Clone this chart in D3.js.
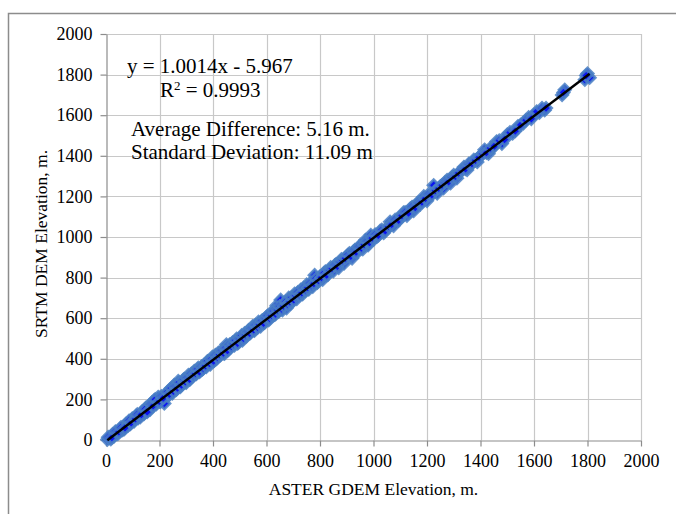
<!DOCTYPE html>
<html lang="en">
<head>
<meta charset="UTF-8">
<title>ASTER vs SRTM elevation</title>
<script src="https://cdn.jsdelivr.net/npm/d3@7/dist/d3.min.js"></script>
<style>
  body { margin: 0; background: #fff; }
  svg text { font-family: "Liberation Serif", "Times New Roman", serif; fill: #000; }
</style>
</head>
<body>
<div id="chart"></div>
<script>

// ASTER GDEM elevation (x) and SRTM DEM elevation (y)
var asterElev = [5,12,18,25,30,38,44,52,60,67,75,82,90,98,105,113,120,128,135,142,
  150,158,165,172,180,188,195,203,210,218,225,233,240,248,255,263,270,278,285,293,
  300,308,315,323,330,338,345,353,360,368,375,383,390,398,405,413,420,428,435,443,
  450,458,465,473,480,488,495,503,510,518,525,533,540,548,555,563,570,578,585,593,
  600,608,615,623,630,638,645,653,660,668,675,683,690,698,705,713,720,728,735,743,
  750,758,765,773,780,790,800,810,820,830,840,850,860,870,880,890,900,910,920,930,
  940,950,960,970,980,990,1000,1012,1025,1038,1050,1062,1075,1088,1100,1112,1125,1138,1150,1162,
  1175,1188,1200,1212,1225,1238,1250,1262,1275,1288,1300,1312,1325,1338,1350,1362,1375,1388,1400,1415,
  1430,1445,1460,1480,1500,1520,1540,1560,1580,1600,1620,1640,1705,1715,1790,1800,1808,
  8,22,35,48,56,71,86,94,110,117,132,146,154,168,176,184,199,207,214,229,
  237,244,252,259,267,274,282,289,297,304,312,319,327,334,342,349,357,364,372,379,
  387,394,402,409,417,424,432,439,447,454,462,469,477,484,492,499,507,514,522,529,
  537,544,552,559,567,574,582,589,597,604,612,619,627,634,642,649,657,664,672,679,
  687,694,702,709,717,724,732,739,747,754,762,769,777,785,795,805,815,825,835,845,
  855,865,875,885,895,905,915,925,935,945,955,965,975,985,995,1006,1018,1031,1044,1056,
  1068,1081,1094,1106,1118,1131,1144,1156,1168,1181,1194,1206,1218,1231,1244,1256,1268,1281,1294,1306,
  1318,1331,1344,1356,1368,1381,1394,1408,1422,1437,1452,1470,1490,1510,1530,1550,1570,1590,1610,1630,
  1645,1710,1795];

var srtmElev = [2,10,4,28,18,36,30,55,48,52,80,70,78,105,92,120,108,112,140,128,
  160,146,150,185,196,176,212,188,200,180,222,218,250,230,270,248,290,262,275,300,
  282,320,300,312,340,325,356,340,348,372,360,385,372,410,392,400,430,418,442,425,
  470,445,458,480,466,498,480,505,490,525,512,540,528,560,538,552,582,560,590,578,
  605,590,625,612,618,662,632,690,640,672,650,700,672,688,720,695,712,740,718,735,
  765,742,770,755,812,775,805,790,830,815,850,832,865,848,890,870,905,920,895,935,
  925,958,940,985,960,1010,988,1000,1030,1020,1045,1075,1055,1085,1090,1120,1105,1140,1128,1165,
  1160,1200,1178,1205,1255,1215,1250,1240,1280,1265,1305,1290,1320,1345,1330,1355,1380,1370,1400,1430,
  1410,1440,1470,1460,1505,1510,1545,1560,1590,1602,1612,1625,1700,1725,1775,1805,1785,
  14,12,42,40,62,60,95,84,104,126,125,152,138,175,168,200,190,215,206,236,
  225,256,240,262,255,284,270,296,286,306,298,326,318,328,348,335,362,352,365,388,
  376,398,388,418,406,420,438,428,452,440,470,460,474,490,476,500,515,500,518,532,
  525,548,542,566,555,570,586,575,600,612,598,614,635,620,640,658,645,660,682,668,
  680,702,690,712,728,715,725,748,738,750,772,760,770,795,785,800,822,812,838,845,
  860,855,878,885,895,912,905,928,925,950,945,962,978,972,995,1012,1008,1035,1030,1052,
  1062,1085,1082,1105,1122,1118,1148,1145,1170,1172,1190,1210,1208,1228,1240,1255,1270,1272,1295,1298,
  1315,1330,1335,1360,1362,1378,1392,1410,1415,1438,1448,1475,1480,1515,1522,1552,1575,1582,1618,1635,
  1635,1712,1795];

// linear trend from the chart label
var trendSlope = 1.0014;
var trendIntercept = -5.967;

var xTicks = [0,200,400,600,800,1000,1200,1400,1600,1800,2000];
var yTicks = [0,200,400,600,800,1000,1200,1400,1600,1800,2000];

var annotations = [
  "Average Difference: 5.16 m.",
  "Standard Deviation: 11.09 m"
];

var w = 676, h = 514;
var plotL = 106, plotR = 641, plotT = 34, plotB = 440;

var svg = d3.select("#chart").append("svg")
  .attr("width", w)
  .attr("height", h);

svg.append("rect").attr("width", w).attr("height", h).attr("fill", "#fff");

// outer chart frame
svg.append("rect")
  .attr("x", 8.5).attr("y", 13.5)
  .attr("width", w).attr("height", h)
  .attr("fill", "none")
  .attr("stroke", "#8c8c8c")
  .attr("stroke-width", 1.5);

var x = d3.scaleLinear().domain([0, 2000]).range([plotL, plotR]);
var y = d3.scaleLinear().domain([0, 2000]).range([plotB, plotT]);

// gridlines
svg.append("g").selectAll("line.vg")
  .data(xTicks.slice(1))
  .enter().append("line")
  .attr("x1", d => Math.round(x(d)) + 0.5).attr("x2", d => Math.round(x(d)) + 0.5)
  .attr("y1", plotT).attr("y2", plotB)
  .attr("stroke", "#c8c8c8").attr("stroke-width", 1.2);

svg.append("g").selectAll("line.hg")
  .data(yTicks.slice(1))
  .enter().append("line")
  .attr("x1", plotL).attr("x2", plotR)
  .attr("y1", d => Math.round(y(d)) + 0.5).attr("y2", d => Math.round(y(d)) + 0.5)
  .attr("stroke", "#c8c8c8").attr("stroke-width", 1.2);

// axes
var fmt = d3.format("d");
var xAxis = d3.axisBottom(x).tickValues(xTicks).tickFormat(fmt).tickSize(6).tickPadding(8).tickSizeOuter(0);
var yAxis = d3.axisLeft(y).tickValues(yTicks).tickFormat(fmt).tickSize(6).tickPadding(8).tickSizeOuter(0);

var gx = svg.append("g").attr("transform", "translate(0," + (plotB + 0.5) + ")").call(xAxis);
var gy = svg.append("g").attr("transform", "translate(" + (plotL + 0.5) + ",0)").call(yAxis);

[gx, gy].forEach(function(g) {
  g.selectAll("path, line").attr("stroke", "#8c8c8c").attr("stroke-width", 1.2);
  g.selectAll("text")
    .style("font-family", "'Liberation Serif', 'Times New Roman', serif")
    .style("font-size", "18px")
    .attr("fill", "#000");
});

// scatter points, diamond markers
var diamond = d3.symbol().type(d3.symbolDiamond2).size(80);
svg.append("g").selectAll("path.pt")
  .data(asterElev.map(function(d, i) { return [d, srtmElev[i]]; }))
  .enter().append("path")
  .attr("class", "pt")
  .attr("d", diamond)
  .attr("transform", d => "translate(" + x(d[0]) + "," + y(d[1]) + ")")
  .attr("fill", "#0a14f0")
  .attr("stroke", "#4a80c4")
  .attr("stroke-width", 2.8)
  .attr("stroke-opacity", 0.85);

// trend line
var xMin = d3.min(asterElev), xMax = d3.max(asterElev);
svg.append("line")
  .attr("x1", x(xMin)).attr("y1", y(trendSlope * xMin + trendIntercept))
  .attr("x2", x(xMax)).attr("y2", y(trendSlope * xMax + trendIntercept))
  .attr("stroke", "#000").attr("stroke-width", 2.5);

// equation and R squared
var eq = svg.append("text").attr("x", 127).attr("y", 73).style("font-size", "21px");
eq.text("y = " + trendSlope.toFixed(4) + "x - " + Math.abs(trendIntercept).toFixed(3));

var r2 = svg.append("text").attr("x", 160).attr("y", 97).style("font-size", "21px");
r2.append("tspan").text("R");
r2.append("tspan").attr("dy", -7).style("font-size", "13px").text("2");
r2.append("tspan").attr("dy", 7).text(" = 0.9993");

svg.selectAll("text.note")
  .data(annotations)
  .enter().append("text")
  .attr("class", "note")
  .attr("x", 131)
  .attr("y", (d, i) => 136 + i * 23)
  .style("font-size", "21px")
  .text(d => d);

// axis titles
svg.append("text")
  .attr("x", (plotL + plotR) / 2).attr("y", 495)
  .attr("text-anchor", "middle")
  .style("font-size", "17.5px")
  .text("ASTER GDEM Elevation, m.");

svg.append("text")
  .attr("transform", "translate(47,244) rotate(-90)")
  .attr("text-anchor", "middle")
  .style("font-size", "17.5px")
  .text("SRTM DEM Elevation, m.");

</script>
</body>
</html>
